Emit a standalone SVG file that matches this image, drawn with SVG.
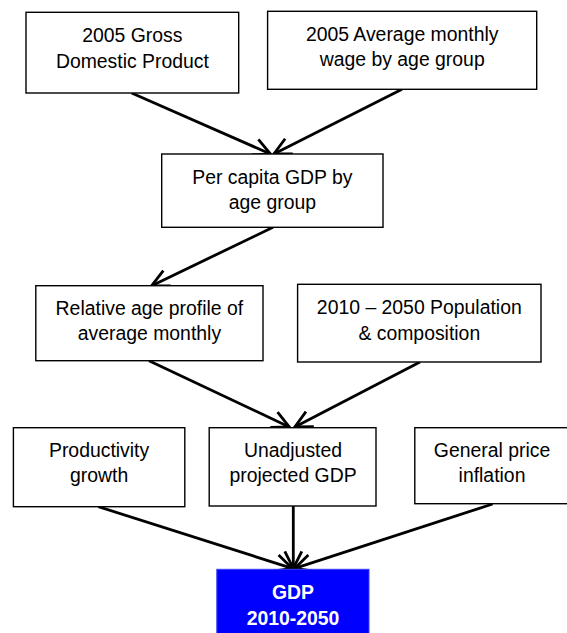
<svg xmlns="http://www.w3.org/2000/svg" width="567" height="633" viewBox="0 0 567 633">
  <defs>
    <style>
      .box { fill: #ffffff; stroke: #000000; stroke-width: 1.4; }
      .out { fill: #0000ff; stroke: #3c3cff; stroke-width: 1; }
      .t { font-family: "Liberation Sans", Arial, sans-serif; font-size: 19.4px; fill: #000000; text-anchor: middle; }
      .tw { font-family: "Liberation Sans", Arial, sans-serif; font-size: 19.4px; font-weight: bold; fill: #ffffff; text-anchor: middle; }
      .conn { fill: none; stroke: #000000; stroke-width: 2.8; marker-end: url(#arrow); }
    </style>
    <marker id="arrow" markerUnits="userSpaceOnUse" markerWidth="50" markerHeight="50" viewBox="-25 -25 50 50" refX="0" refY="0" orient="auto" overflow="visible">
      <path d="M -17 -8.5 L 0 0 L -17 8.5" fill="none" stroke="#000000" stroke-width="2.8" stroke-linejoin="miter"/>
    </marker>
  </defs>
  <rect width="567" height="633" fill="#ffffff"/>

  <g id="connectors">
    <line class="conn" x1="131.6" y1="93" x2="270.5" y2="154"/>
    <line class="conn" x1="402" y1="89.3" x2="273.8" y2="154"/>
    <line class="conn" x1="273" y1="227.3" x2="151.7" y2="285.7"/>
    <line class="conn" x1="149" y1="360.7" x2="289.3" y2="427"/>
    <line class="conn" x1="420" y1="362" x2="294.8" y2="427"/>
    <line class="conn" x1="98.4" y1="506.7" x2="292.2" y2="568.3"/>
    <line class="conn" x1="293.3" y1="506" x2="293.3" y2="568.3"/>
    <line class="conn" x1="492.6" y1="504" x2="294.8" y2="568.3"/>
  </g>

  <g id="gdp2005">
    <rect class="box" x="26" y="12.3" width="212.7" height="80.7"/>
    <text class="t" x="132.4" y="42.3">2005 Gross</text>
    <text class="t" x="132.4" y="68">Domestic Product</text>
  </g>

  <g id="wage2005">
    <rect class="box" x="267.6" y="11.3" width="269.1" height="78"/>
    <text class="t" x="402.2" y="40.7">2005 Average monthly</text>
    <text class="t" x="402.2" y="66.3">wage by age group</text>
  </g>

  <g id="percapita">
    <rect class="box" x="161.7" y="154" width="221.3" height="73.3"/>
    <text class="t" x="272.4" y="183.7">Per capita GDP by</text>
    <text class="t" x="272.4" y="209.4">age group</text>
  </g>

  <g id="relprofile">
    <rect class="box" x="35.8" y="285.7" width="227.2" height="75"/>
    <text class="t" x="149.4" y="314.7">Relative age profile of</text>
    <text class="t" x="149.4" y="340.3">average monthly</text>
  </g>

  <g id="population">
    <rect class="box" x="297.6" y="284.3" width="243.4" height="77.7"/>
    <text class="t" x="419.3" y="314">2010 – 2050 Population</text>
    <text class="t" x="419.3" y="339.7">&amp; composition</text>
  </g>

  <g id="productivity">
    <rect class="box" x="13.4" y="427.7" width="171.4" height="79"/>
    <text class="t" x="99.1" y="456.7">Productivity</text>
    <text class="t" x="99.1" y="482.3">growth</text>
  </g>

  <g id="unadjusted">
    <rect class="box" x="209.2" y="427.7" width="166.8" height="78.3"/>
    <text class="t" x="293" y="456.7">Unadjusted</text>
    <text class="t" x="293" y="482.3">projected GDP</text>
  </g>

  <g id="inflation">
    <rect class="box" x="414.8" y="427.7" width="154.2" height="76"/>
    <text class="t" x="492" y="456.7">General price</text>
    <text class="t" x="492" y="482.3">inflation</text>
  </g>

  <g id="gdp">
    <rect class="out" x="216.8" y="569.3" width="152.2" height="66"/>
    <text class="tw" x="293" y="599.3">GDP</text>
    <text class="tw" x="293" y="625.3">2010-2050</text>
  </g>
</svg>
